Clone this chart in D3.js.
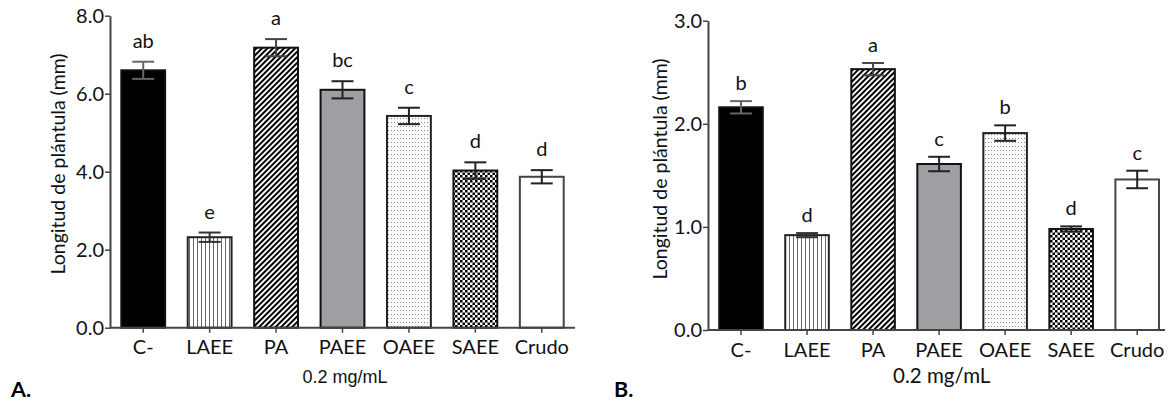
<!DOCTYPE html>
<html>
<head>
<meta charset="utf-8">
<script src="https://cdn.jsdelivr.net/npm/d3@7"></script>
<style>
  html, body { margin: 0; padding: 0; background: #fff; }
  svg { display: block; }
</style>
</head>
<body>
<svg id="chart" width="1171" height="403"></svg>
<script>
// ---------------- DATA ----------------
const categories = ["C-", "LAEE", "PA", "PAEE", "OAEE", "SAEE", "Crudo"];

const valuesA  = [6.60, 2.32, 7.18, 6.10, 5.43, 4.03, 3.87];
const errorsA  = [0.22, 0.12, 0.22, 0.22, 0.21, 0.21, 0.17];
const lettersA = ["ab", "e", "a", "bc", "c", "d", "d"];
const ticksA   = [0, 2, 4, 6, 8];

const valuesB  = [2.16, 0.92, 2.53, 1.61, 1.91, 0.98, 1.46];
const errorsB  = [0.06, 0.02, 0.06, 0.07, 0.075, 0.025, 0.085];
const lettersB = ["b", "d", "a", "c", "b", "d", "c"];
const ticksB   = [0, 1, 2, 3];

const yTitle = "Longitud de plántula (mm)";
const xTitle = "0.2 mg/mL";

// ---------------- STYLES ----------------
const barFills   = ["#000", "url(#vlines)", "url(#diag)", "#9e9ea3", "url(#dots)", "url(#checker)", "#fff"];
const barStrokes = ["#111", "#222", "#111", "#111", "#222", "#111", "#444"];
const errColors  = ["#666", "#333", "#444", "#222", "#222", "#222", "#222"];
const FONT = "Lato, 'Open Sans', sans-serif";
const FS = 20;

const svg = d3.select("#chart");
const defs = svg.append("defs");

// vertical lines
const pV = defs.append("pattern").attr("id", "vlines").attr("patternUnits", "userSpaceOnUse")
  .attr("width", 4).attr("height", 10);
pV.append("rect").attr("width", 4).attr("height", 10).attr("fill", "#fff");
pV.append("rect").attr("x", 1).attr("width", 1).attr("height", 10).attr("fill", "#666");

// diagonal hatch
const pD = defs.append("pattern").attr("id", "diag").attr("patternUnits", "userSpaceOnUse")
  .attr("width", 3.9).attr("height", 10).attr("patternTransform", "rotate(45)");
pD.append("rect").attr("width", 3.9).attr("height", 10).attr("fill", "#fff");
pD.append("rect").attr("width", 2.0).attr("height", 10).attr("fill", "#000");

// fine dots
const pO = defs.append("pattern").attr("id", "dots").attr("patternUnits", "userSpaceOnUse")
  .attr("width", 3).attr("height", 4);
pO.append("rect").attr("width", 3).attr("height", 4).attr("fill", "#fafafa");
pO.append("rect").attr("x", 1).attr("y", 2).attr("width", 1).attr("height", 1).attr("fill", "#888");

// checkerboard
const pC = defs.append("pattern").attr("id", "checker").attr("patternUnits", "userSpaceOnUse")
  .attr("width", 5).attr("height", 5);
pC.append("rect").attr("width", 5).attr("height", 5).attr("fill", "#fff");
pC.append("rect").attr("width", 2.5).attr("height", 2.5).attr("fill", "#000");
pC.append("rect").attr("x", 2.5).attr("y", 2.5).attr("width", 2.5).attr("height", 2.5).attr("fill", "#000");

function drawPanel(cfg) {
  const g = svg.append("g");
  const x = d3.scaleBand().domain(categories).range(cfg.xRange).paddingInner(0.34).paddingOuter(0.17);
  const y = d3.scaleLinear().domain(cfg.yDomain).range(cfg.yRange);
  const data = categories.map((c, i) => ({ c, v: cfg.values[i], e: cfg.errors[i], l: cfg.letters[i], i }));

  // bars
  g.selectAll("rect.bar").data(data).join("rect")
    .attr("class", "bar")
    .attr("x", d => x(d.c))
    .attr("y", d => y(d.v))
    .attr("width", x.bandwidth())
    .attr("height", d => y(0) - y(d.v))
    .attr("fill", d => barFills[d.i])
    .attr("stroke", d => barStrokes[d.i])
    .attr("stroke-width", 2);

  // error bars
  const cap = x.bandwidth() * 0.25;
  const eb = g.selectAll("g.err").data(data).join("g").attr("class", "err")
    .attr("stroke", d => errColors[d.i]).attr("stroke-width", 2);
  eb.append("line")
    .attr("x1", d => x(d.c) + x.bandwidth() / 2).attr("x2", d => x(d.c) + x.bandwidth() / 2)
    .attr("y1", d => y(d.v - d.e)).attr("y2", d => y(d.v + d.e));
  eb.append("line")
    .attr("x1", d => x(d.c) + x.bandwidth() / 2 - cap).attr("x2", d => x(d.c) + x.bandwidth() / 2 + cap)
    .attr("y1", d => y(d.v + d.e)).attr("y2", d => y(d.v + d.e));
  eb.append("line")
    .attr("x1", d => x(d.c) + x.bandwidth() / 2 - cap).attr("x2", d => x(d.c) + x.bandwidth() / 2 + cap)
    .attr("y1", d => y(d.v - d.e)).attr("y2", d => y(d.v - d.e));

  // significance letters
  g.selectAll("text.letter").data(data).join("text")
    .attr("class", "letter")
    .attr("x", d => x(d.c) + x.bandwidth() / 2)
    .attr("y", d => y(d.v + d.e) - cfg.letterGap)
    .attr("text-anchor", "middle")
    .attr("font-family", FONT).attr("font-size", FS).attr("fill", "#111")
    .text(d => d.l);

  // y axis
  const ya = g.append("g").attr("transform", `translate(${cfg.xRange[0]},0)`)
    .call(d3.axisLeft(y).tickValues(cfg.ticks).tickFormat(d3.format(".1f")).tickSize(5).tickSizeOuter(0).tickPadding(1));
  ya.select(".domain").attr("stroke", "#444").attr("stroke-width", 2);
  ya.selectAll(".tick line").attr("stroke", "#444").attr("stroke-width", 1.5);
  ya.selectAll(".tick text").attr("font-family", FONT).attr("font-size", FS).attr("fill", "#111");

  // x axis
  const xa = g.append("g").attr("transform", `translate(0,${y(0)})`)
    .call(d3.axisBottom(x).tickSize(5).tickSizeOuter(0));
  xa.select(".domain").remove();
  xa.append("line").attr("x1", cfg.xRange[0]).attr("x2", cfg.axisEnd)
    .attr("stroke", "#444").attr("stroke-width", 2);
  xa.selectAll(".tick line").attr("stroke", "#444").attr("stroke-width", 1.5);
  xa.selectAll(".tick text").attr("y", 26.5).attr("dy", 0)
    .attr("font-family", FONT).attr("font-size", FS).attr("fill", "#111");

  // titles
  g.append("text")
    .attr("transform", `translate(${cfg.yTitleX},${cfg.yTitleY}) rotate(-90)`)
    .attr("dy", "0.35em").attr("text-anchor", "middle")
    .attr("font-family", FONT).attr("font-size", 19.5).attr("fill", "#111")
    .text(yTitle);
  g.append("text")
    .attr("x", cfg.xTitleX).attr("y", 383)
    .attr("text-anchor", "middle")
    .attr("font-family", cfg.xTitleFont).attr("font-size", cfg.xTitleSize).attr("fill", "#111")
    .text(xTitle);
  g.append("text")
    .attr("x", cfg.panelX).attr("y", 397)
    .attr("font-family", FONT).attr("font-weight", "bold").attr("font-size", 21.5).attr("fill", "#000")
    .text(cfg.panel);
}

drawPanel({
  values: valuesA, errors: errorsA, letters: lettersA, ticks: ticksA,
  xRange: [110, 575], axisEnd: 575, yDomain: [0, 8], yRange: [327.7, 15.7],
  letterGap: 14, yTitleX: 58.5, yTitleY: 164,
  xTitleX: 345, xTitleFont: "'Liberation Sans', Arial, sans-serif", xTitleSize: 18,
  panel: "A.", panelX: 11
});

drawPanel({
  values: valuesB, errors: errorsB, letters: lettersB, ticks: ticksB,
  xRange: [708, 1170.2], axisEnd: 1165, yDomain: [0, 3], yRange: [330, 20.7],
  letterGap: 11, yTitleX: 660, yTitleY: 169,
  xTitleX: 941.7, xTitleFont: FONT, xTitleSize: 20.5,
  panel: "B.", panelX: 614
});
</script>
</body>
</html>
